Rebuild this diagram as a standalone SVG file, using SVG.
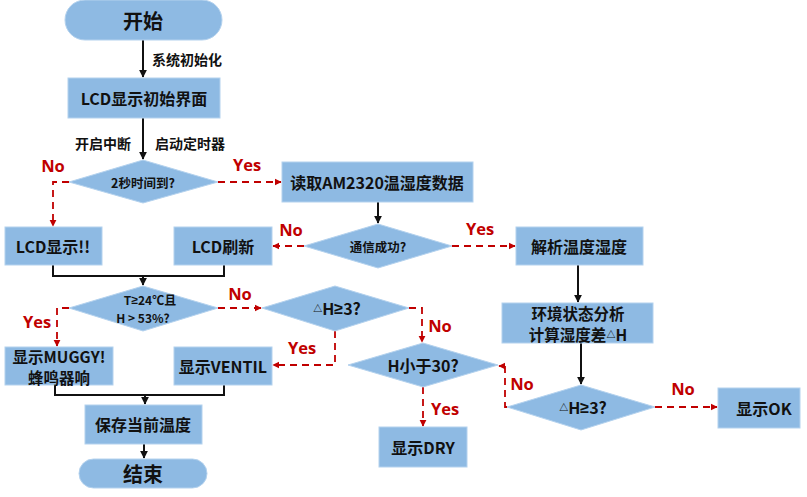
<svg xmlns="http://www.w3.org/2000/svg" width="807" height="497" viewBox="0 0 807 497">
<defs>
<style>
.n{fill:#8EBAE3;stroke:#B4D2EE;stroke-width:1}
.t{font-family:"Noto Sans CJK SC","Noto Sans",sans-serif;font-weight:bold;fill:#111;text-anchor:middle;dominant-baseline:central}
.s{font-size:16px}
.s2{font-size:15.5px}
.sm{font-size:12.5px}
.g{font-family:"Noto Sans",sans-serif}
.lb{font-family:"Noto Sans CJK SC",sans-serif;font-weight:bold;font-size:14px;fill:#111;dominant-baseline:central}
.r{font-family:"Open Sans","Noto Sans",sans-serif;font-weight:bold;font-size:16.5px;fill:#C00000;text-anchor:middle;dominant-baseline:central}
.k{fill:none;stroke:#111;stroke-width:2}
.d{fill:none;stroke:#C00000;stroke-width:1.8;stroke-dasharray:7,5}
</style>
<marker id="ak" viewBox="0 0 10 10" refX="9" refY="5" markerWidth="4" markerHeight="4" orient="auto"><path d="M0,0L10,5L0,10z" fill="#111"/></marker>
<marker id="ar" viewBox="0 0 10 10" refX="9" refY="5" markerWidth="4" markerHeight="4" orient="auto"><path d="M0,0L10,5L0,10z" fill="#C00000"/></marker>
</defs>
<rect width="807" height="497" fill="#fff"/>
<g id="connectors">
<path class="k" d="M143,40V77" marker-end="url(#ak)"/>
<path class="k" d="M143,118V159" marker-end="url(#ak)"/>
<path class="k" d="M378,202V223" marker-end="url(#ak)"/>
<path class="k" d="M578,265V302" marker-end="url(#ak)"/>
<path class="k" d="M581,343V384" marker-end="url(#ak)"/>
<path class="k" d="M53,265V276H224V265"/>
<path class="k" d="M143,276V285" marker-end="url(#ak)"/>
<path class="k" d="M55,385V395H224V385"/>
<path class="k" d="M145,395V404" marker-end="url(#ak)"/>
<path class="k" d="M144,444V458" marker-end="url(#ak)"/>
<path class="d" d="M69,182H53V226" marker-end="url(#ar)"/>
<path class="d" d="M218,182H281" marker-end="url(#ar)"/>
<path class="d" d="M304,246H273" marker-end="url(#ar)"/>
<path class="d" d="M452,246H515" marker-end="url(#ar)"/>
<path class="d" d="M218,308H261" marker-end="url(#ar)"/>
<path class="d" d="M69,308H57V346" marker-end="url(#ar)"/>
<path class="d" d="M409,308H422V342" marker-end="url(#ar)"/>
<path class="d" d="M335,331V365H273" marker-end="url(#ar)"/>
<path class="d" d="M423,387V426" marker-end="url(#ar)"/>
<path class="d" d="M507,407H505V366H499" marker-end="url(#ar)"/>
<path class="d" d="M655,407H717" marker-end="url(#ar)"/>
</g>
<g id="labels">
<text class="lb" x="152" y="59">系统初始化</text>
<text class="lb" x="75" y="143">开启中断</text>
<text class="lb" x="155" y="143">启动定时器</text>
<text class="r" x="53" y="165">No</text>
<text class="r" x="247" y="164">Yes</text>
<text class="r" x="291" y="229">No</text>
<text class="r" x="480" y="228">Yes</text>
<text class="r" x="240" y="293">No</text>
<text class="r" x="37" y="321">Yes</text>
<text class="r" x="302" y="347">Yes</text>
<text class="r" x="440" y="325">No</text>
<text class="r" x="445" y="408">Yes</text>
<text class="r" x="522" y="383">No</text>
<text class="r" x="683" y="388">No</text>
</g>
<g id="start"><rect class="n" x="65" y="0" width="157" height="40" rx="20"/><text class="t" x="143" y="20" font-size="20">开始</text></g>
<g id="init"><rect class="n" x="68" y="78" width="152" height="40"/><text class="t s" x="144" y="98">LCD显示初始界面</text></g>
<g id="d2s"><polygon class="n" points="69,182 143,160 218,182 143,203"/><text class="t sm" x="143" y="182">2秒时间到?</text></g>
<g id="read"><rect class="n" x="282" y="162" width="191" height="40"/><text class="t s" x="377" y="182">读取AM2320温湿度数据</text></g>
<g id="dcomm"><polygon class="n" points="304,246 378,224 452,246 378,268"/><text class="t sm" x="378" y="246">通信成功?</text></g>
<g id="lcderr"><rect class="n" x="5" y="227" width="97" height="38"/><text class="t s" x="53" y="246">LCD显示!!</text></g>
<g id="lcdref"><rect class="n" x="174" y="227" width="98" height="38"/><text class="t s" x="223" y="246">LCD刷新</text></g>
<g id="parse"><rect class="n" x="516" y="227" width="127" height="38"/><text class="t s" x="579" y="246">解析温度湿度</text></g>
<g id="dtemp"><polygon class="n" points="69,308 143,286 218,308 143,331"/><text class="t" font-size="12" x="150" y="299">T<tspan class="g">≥</tspan>24℃且</text><text class="t" font-size="12" x="143" y="317.5">H &gt; 53%?</text></g>
<g id="ddh1"><polygon class="n" points="262,308 335,286 409,308 335,331"/><text class="t s" x="337" y="308"><tspan font-size="9">△</tspan>H<tspan class="g">≥</tspan>3?</text></g>
<g id="env"><rect class="n" x="502" y="303" width="151" height="40"/><text class="t s2" x="578" y="312.5">环境状态分析</text><text class="t s2" x="578" y="333.5">计算湿度差<tspan font-size="9">△</tspan>H</text></g>
<g id="muggy"><rect class="n" x="5" y="347" width="108" height="38"/><text class="t s2" x="59" y="356">显示MUGGY!</text><text class="t s2" x="59" y="377">蜂鸣器响</text></g>
<g id="ventil"><rect class="n" x="174" y="347" width="98" height="38"/><text class="t s" x="223" y="366">显示VENTIL</text></g>
<g id="dh30"><polygon class="n" points="348,365 423,343 498,365 423,387"/><text class="t s" x="423" y="365">H小于30?</text></g>
<g id="ddh2"><polygon class="n" points="507,407 581,385 655,407 581,430"/><text class="t s" x="583" y="407"><tspan font-size="9">△</tspan>H<tspan class="g">≥</tspan>3?</text></g>
<g id="ok"><rect class="n" x="718" y="388" width="82" height="40"/><text class="t s" x="764" y="408">显示OK</text></g>
<g id="dry"><rect class="n" x="379" y="427" width="88" height="40"/><text class="t s" x="423" y="447">显示DRY</text></g>
<g id="save"><rect class="n" x="85" y="405" width="117" height="39"/><text class="t s" x="143" y="424">保存当前温度</text></g>
<g id="end"><rect class="n" x="79" y="459" width="128" height="29" rx="14.5"/><text class="t" x="143" y="473" font-size="20">结束</text></g>
</svg>
